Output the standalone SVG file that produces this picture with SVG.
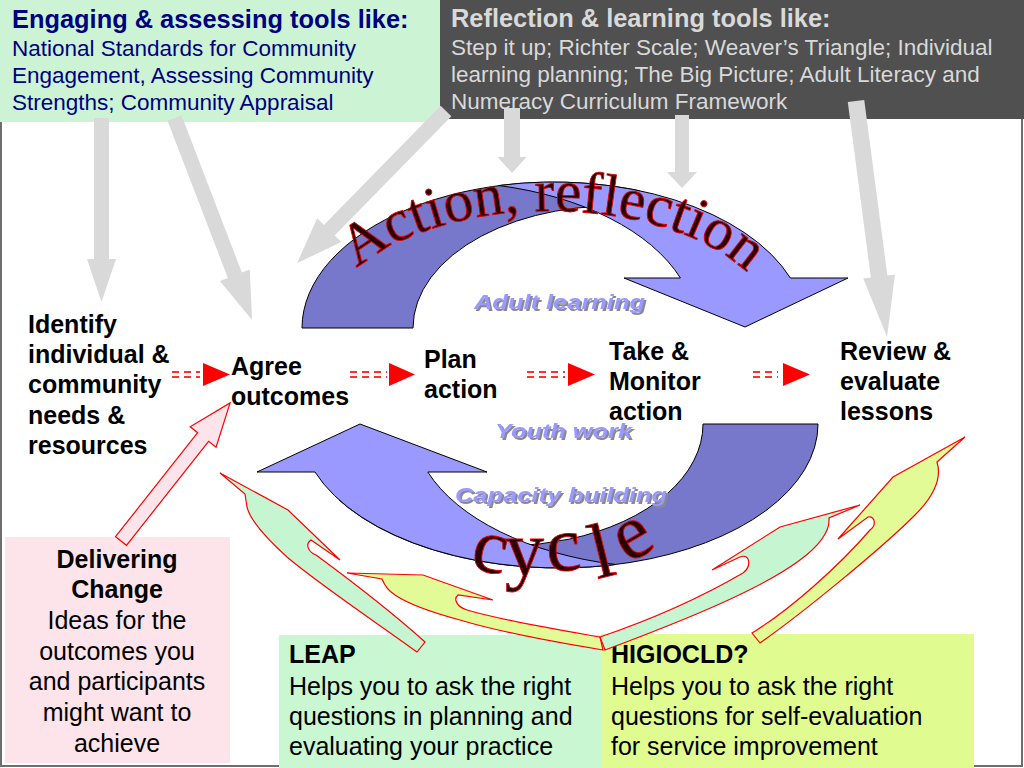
<svg xmlns="http://www.w3.org/2000/svg" width="1024" height="768" viewBox="0 0 1024 768">
<defs>
<style>
.sans{font-family:"Liberation Sans",Arial,sans-serif}
.lbl{font-family:"Liberation Sans",Arial,sans-serif;font-weight:bold;font-size:25px;fill:#000}
.box{font-family:"Liberation Sans",Arial,sans-serif;font-size:25px;fill:#000}
.gray{fill:#d9d9d9}
.arcL{fill:#9999ff;stroke:#000;stroke-width:1}
.arcD{fill:#7777cc;stroke:#000;stroke-width:1}
.wa{font-family:"Liberation Sans",Arial,sans-serif;font-weight:bold;font-style:italic;font-size:21px;fill:#9999ff;filter:url(#shadow)}
.big{font-family:"Liberation Serif","Times New Roman",serif;fill:#2a0000;stroke:#e00000;stroke-width:0.9}
.dash{stroke:#ff3030;stroke-width:2;stroke-dasharray:7 5;fill:none}
.tri{fill:#ff0000}
.cg{fill:#c6f5d1;stroke:#ff0000;stroke-width:1.2}
.cy{fill:#e2fb96;stroke:#ff0000;stroke-width:1.2}
</style>
<filter id="shadow" x="-10%" y="-30%" width="120%" height="160%">
<feFlood flood-color="#8a8a8a" result="c"/>
<feComposite in="c" in2="SourceAlpha" operator="in" result="s"/>
<feOffset in="s" dx="2" dy="2" result="o"/>
<feMerge><feMergeNode in="o"/><feMergeNode in="SourceGraphic"/></feMerge>
</filter>
<path id="arcTop" d="M 325,330 A 225 119 0 0 1 775,330"/>
</defs>
<rect x="0" y="0" width="1024" height="768" fill="#ffffff"/>
<rect x="1" y="1" width="1021" height="765" fill="none" stroke="#6e6e6e" stroke-width="2"/>

<g id="engaging-tools">
<rect x="0" y="0" width="440" height="122" fill="#ccf4d4"/>
<text class="sans" x="12" y="28" font-size="25.4" font-weight="bold" fill="#000080">Engaging &amp; assessing tools like:</text>
<text class="sans" font-size="22.5" fill="#000080"><tspan x="12" y="56">National Standards for Community</tspan><tspan x="12" y="83">Engagement, Assessing Community</tspan><tspan x="12" y="110">Strengths; Community Appraisal</tspan></text>
</g>

<g id="reflection-tools">
<rect x="440" y="0" width="584" height="119" fill="#505050"/>
<text class="sans" x="451" y="27" font-size="25.4" font-weight="bold" fill="#d9d9d9">Reflection &amp; learning tools like:</text>
<text class="sans" font-size="22.5" fill="#d9d9d9"><tspan x="451" y="55">Step it up; Richter Scale; Weaver’s Triangle; Individual</tspan><tspan x="451" y="82">learning planning; The Big Picture; Adult Literacy and</tspan><tspan x="451" y="109">Numeracy Curriculum Framework</tspan></text>
</g>

<g id="cycle">
<path class="arcD" d="M 302,328 A 252 146 0 0 1 640,190.9 L 640,207.1 A 200 122 0 0 0 413,328 Z"/>
<path class="arcL" d="M 498.6,185.5 A 252 146 0 0 1 790.4,278 L 848,278 L 745,327 L 624,278 L 680.4,278 A 252 146 0 0 0 498.6,185.5 Z"/>
<path class="arcD" d="M 818,424 L 703,424 A 200 122 0 0 1 346.5,500 L 339,500 A 259 144 0 0 0 818,424 Z"/>
<path class="arcL" d="M 315,472 A 259 144 0 0 0 615.5,564.5 A 259 144 0 0 1 427.8,472 L 487,472 L 360,424 L 257,472 Z"/>
</g>

<g id="cycle-labels">
<text class="wa" x="474" y="309" textLength="171" lengthAdjust="spacingAndGlyphs">Adult learning</text>
<text class="wa" x="495" y="438" textLength="137" lengthAdjust="spacingAndGlyphs">Youth work</text>
<text class="wa" x="455" y="502" textLength="212" lengthAdjust="spacingAndGlyphs">Capacity building</text>
<text class="big" font-size="59"><textPath href="#arcTop" startOffset="50.5%" text-anchor="middle">Action, reflection</textPath></text>
<text class="big" font-size="78" x="469 505 548 597 628" y="568 575 572 579 564" rotate="12 0 -5 -14 -30">cycle</text>
</g>

<g id="connectors">
<polygon class="gray" points="0,-7.5 141,-7.5 141,-14.5 184,0 141,14.5 141,7.5 0,7.5" transform="translate(101.5,118) rotate(90)"/>
<polygon class="gray" points="0,-7.5 168.4,-7.5 168.4,-16 216.4,0 168.4,16 168.4,7.5 0,7.5" transform="translate(174.5,118) rotate(69)"/>
<polygon class="gray" points="0,-7.5 166.8,-7.5 166.8,-17 212.8,0 166.8,17 166.8,7.5 0,7.5" transform="translate(446,111) rotate(134.4)"/>
<polygon class="gray" points="0,-8 49,-8 49,-14.5 65,0 49,14.5 49,8 0,8" transform="translate(512,108) rotate(90)"/>
<polygon class="gray" points="0,-7 57,-7 57,-15 73,0 57,15 57,7 0,7" transform="translate(682,115) rotate(90)"/>
<polygon class="gray" points="0,-8.3 177,-8.3 177,-16 238,0 177,16 177,8.3 0,8.3" transform="translate(856,101) rotate(82.5)"/>

<g id="red-arrows">
<path class="dash" d="M 172,372 H 200 M 172,377 H 200"/>
<polygon class="tri" points="203,363 203,386 230,374.5"/>
<path class="dash" d="M 350,372 H 387 M 350,377 H 387"/>
<polygon class="tri" points="389,363 389,386 415,374.5"/>
<path class="dash" d="M 527,372 H 565 M 527,377 H 565"/>
<polygon class="tri" points="568,363 568,386 595,374.5"/>
<path class="dash" d="M 753,372 H 778 M 753,377 H 778"/>
<polygon class="tri" points="783,363 783,386 810,374.5"/>
</g>
</g>

<g id="identify"><text class="lbl"><tspan x="28" y="333">Identify</tspan><tspan x="28" y="363">individual &amp;</tspan><tspan x="28" y="393">community</tspan><tspan x="28" y="424">needs &amp;</tspan><tspan x="28" y="454">resources</tspan></text></g>
<g id="agree"><text class="lbl"><tspan x="231" y="375">Agree</tspan><tspan x="231" y="405">outcomes</tspan></text></g>
<g id="plan"><text class="lbl"><tspan x="424" y="368">Plan</tspan><tspan x="424" y="398">action</tspan></text></g>
<g id="take"><text class="lbl"><tspan x="609" y="360">Take &amp;</tspan><tspan x="609" y="390">Monitor</tspan><tspan x="609" y="420">action</tspan></text></g>
<g id="review"><text class="lbl"><tspan x="840" y="360">Review &amp;</tspan><tspan x="840" y="390">evaluate</tspan><tspan x="840" y="420">lessons</tspan></text></g>

<g id="delivering-change">
<rect x="5" y="537" width="225" height="226" fill="#fde4ea"/>
<text class="box" text-anchor="middle"><tspan x="117" y="568" font-weight="bold">Delivering</tspan><tspan x="117" y="598" font-weight="bold">Change</tspan><tspan x="117" y="629">Ideas for the</tspan><tspan x="117" y="660">outcomes you</tspan><tspan x="117" y="690">and participants</tspan><tspan x="117" y="721">might want to</tspan><tspan x="117" y="752">achieve</tspan></text>
</g>

<g id="leap">
<rect x="279" y="635" width="322" height="133" fill="#c9f7d2"/>
<text class="box"><tspan x="289" y="663" font-weight="bold">LEAP</tspan><tspan x="289" y="695">Helps you to ask the right</tspan><tspan x="289" y="725">questions in planning and</tspan><tspan x="289" y="755">evaluating your practice</tspan></text>
</g>

<g id="higiocld">
<rect x="601" y="634" width="373" height="134" fill="#e0fb8f"/>
<text class="box"><tspan x="611" y="663" font-weight="bold">HIGIOCLD?</tspan><tspan x="611" y="695">Helps you to ask the right</tspan><tspan x="611" y="725">questions for self-evaluation</tspan><tspan x="611" y="755">for service improvement</tspan></text>
</g>

<g id="feedback-arrows">
<path class="cg" d="M 220,473 L 288,510 L 340,560 L 311,540 C 305,544 308,552 316,555 C 350,580 395,615 425,642 L 417,652 C 380,625 320,585 287,557 C 265,537 250,520 247,507 L 245,494 Z"/>
<path class="cy" d="M 347,573 L 423,575 L 493,600 L 458,595 C 453,599 457,607 467,610 C 500,620 560,630 600,637 L 603,650 C 560,643 500,632 460,620 C 430,612 410,605 395,595 C 387,590 384,584 382,579 Z"/>
<path class="cg" d="M 605,650 C 680,622 760,590 800,560 C 820,545 830,530 829,518 L 860,505 L 780,527 L 712,570 L 740,557 C 750,553 752,566 743,573 C 700,598 650,620 600,637 Z"/>
<path class="cy" d="M 965,437 L 893,477 L 838,539 L 868,517 C 876,516 876,526 870,530 C 840,565 790,610 752,633 L 760,643 C 800,615 880,550 915,515 C 935,495 942,478 937,462 Z"/>
<polygon fill="#fde4ea" stroke="#ff0000" stroke-width="1.2" points="0,-7 132.5,-7 132.5,-16.5 176,0 132.5,16.5 132.5,7 0,7" transform="translate(121,541) rotate(-51.7)"/>
</g>
</svg>
